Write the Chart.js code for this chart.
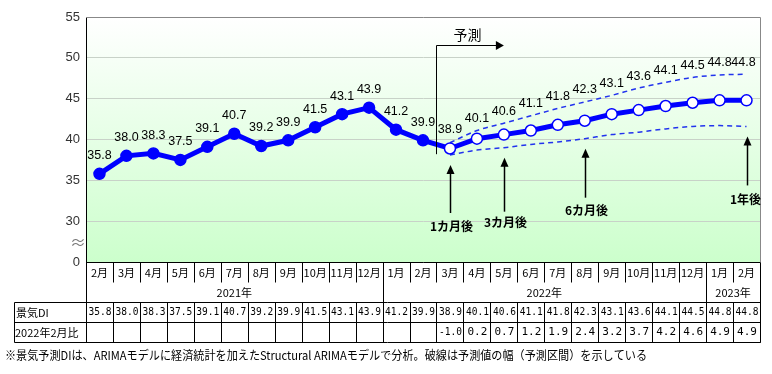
<!DOCTYPE html>
<html>
<head>
<meta charset="utf-8">
<script src="https://cdn.jsdelivr.net/npm/chart.js@4.4.0/dist/chart.umd.min.js"></script>
<style>
  body { margin: 0; background: #fff; }
</style>
</head>
<body>
<canvas id="diChart" width="772" height="374"></canvas>
<script>
// months Feb 2021 .. Feb 2023
const months = ["2月","3月","4月","5月","6月","7月","8月","9月","10月","11月","12月",
  "1月","2月","3月","4月","5月","6月","7月","8月","9月","10月","11月","12月",
  "1月","2月"];
const yearLabels = ["2021年", "2022年", "2023年"];
const yearSpans = [11, 12, 2];

const diValues = [35.8, 38.0, 38.3, 37.5, 39.1, 40.7, 39.2, 39.9, 41.5, 43.1, 43.9,
  41.2, 39.9, 38.9, 40.1, 40.6, 41.1, 41.8, 42.3, 43.1, 43.6, 44.1, 44.5, 44.8, 44.8];
const upperBand = [null, null, null, null, null, null, null, null, null, null, null, null, null,
  39.6, 41.1, 42.0, 42.9, 43.8, 44.6, 45.4, 46.3, 47.0, 47.6, 47.9, 48.0];
const lowerBand = [null, null, null, null, null, null, null, null, null, null, null, null, null,
  38.1, 38.7, 39.0, 39.4, 39.7, 40.1, 40.6, 40.9, 41.3, 41.6, 41.7, 41.6];
const vsFeb2022 = [null, null, null, null, null, null, null, null, null, null, null, null, null,
  -1.0, 0.2, 0.7, 1.2, 1.9, 2.4, 3.2, 3.7, 4.2, 4.6, 4.9, 4.9];
const forecastStart = 13;

const yTickValues = [25, 30, 35, 40, 45, 50, 55];
const yTickLabels = ["0", "30", "35", "40", "45", "50", "55"];

const arrowLabels = ["1カ月後", "3カ月後", "6カ月後", "1年後"];
const arrowIndex = [13, 15, 18, 24];

const rowNames = ["景気DI", "2022年2月比"];
const footnote = "※景気予測DIは、ARIMAモデルに経済統計を加えたStructural ARIMAモデルで分析。破線は予測値の幅（予測区間）を示している";

const JP = '"Noto Sans CJK JP", sans-serif';
const BLUE = "#0000ff";

// gradient plot background + gray top/right frame
const backdrop = {
  id: "backdrop",
  beforeDraw(chart) {
    const { ctx, chartArea: a } = chart;
    const g = ctx.createLinearGradient(0, a.top, 0, a.bottom);
    g.addColorStop(0, "#ffffff");
    g.addColorStop(1, "#ccffcc");
    ctx.save();
    ctx.fillStyle = g;
    ctx.fillRect(a.left, a.top, a.right - a.left, a.bottom - a.top);
    ctx.restore();
  },
  beforeDatasetsDraw(chart) {
    const { ctx, chartArea: a } = chart;
    ctx.save();
    ctx.strokeStyle = "#888";
    ctx.lineWidth = 1;
    ctx.beginPath();
    ctx.moveTo(a.left, Math.round(a.top) + 0.5);
    ctx.lineTo(Math.round(a.right) + 0.5, Math.round(a.top) + 0.5);
    ctx.lineTo(Math.round(a.right) + 0.5, a.bottom);
    ctx.stroke();
    // axis break mark
    ctx.fillStyle = "#777";
    ctx.font = "16px " + JP;
    ctx.textAlign = "center";
    ctx.textBaseline = "middle";
    ctx.fillText("≈", a.left - 8, chart.scales.y.getPixelForValue(27.5));
    ctx.restore();
  }
};

// value labels, forecast bracket and arrows
const notes = {
  id: "notes",
  afterDatasetsDraw(chart) {
    const { ctx } = chart;
    const xs = chart.scales.x, ys = chart.scales.y;
    const main = chart.getDatasetMeta(0).data;
    const up = chart.getDatasetMeta(1).data;
    const low = chart.getDatasetMeta(2).data;
    ctx.save();
    ctx.fillStyle = "#000";
    ctx.textAlign = "center";
    ctx.textBaseline = "middle";
    ctx.font = '12.5px "Liberation Sans", Arial, sans-serif';
    main.forEach((pt, i) => {
      let y = pt.y - 18;
      let x = pt.x;
      if (i >= forecastStart) y = Math.min(pt.y - 19, up[i].y - 12);
      if (i === main.length - 1) x -= 3;
      ctx.fillText(diValues[i].toFixed(1), x, y);
    });

    // 予測 bracket
    const bx = Math.round((xs.getPixelForValue(forecastStart - 1) + xs.getPixelForValue(forecastStart)) / 2) + 0.5;
    const top = Math.round(ys.getPixelForValue(51.6)) + 0.5;
    const bottom = ys.getPixelForValue(38.2);
    const tip = xs.getPixelForValue(forecastStart + 2);
    ctx.strokeStyle = "#000";
    ctx.lineWidth = 1;
    ctx.beginPath();
    ctx.moveTo(bx, bottom);
    ctx.lineTo(bx, top);
    ctx.lineTo(tip - 7, top);
    ctx.stroke();
    ctx.beginPath();
    ctx.moveTo(tip, top);
    ctx.lineTo(tip - 8, top - 4.5);
    ctx.lineTo(tip - 8, top + 4.5);
    ctx.closePath();
    ctx.fill();
    ctx.font = "14px " + JP;
    ctx.fillText("予測", bx + 31, top - 11);

    // up arrows
    const lens = [48, 54, 49, 49];
    const gaps = [13, 11, 13, 14];
    ctx.lineWidth = 1.5;
    ctx.font = "bold 12px " + JP;
    arrowIndex.forEach((idx, k) => {
      const x = Math.round(xs.getPixelForValue(idx)) + 0.5;
      const y0 = low[idx].y + 10;
      const y1 = y0 + lens[k];
      ctx.beginPath();
      ctx.moveTo(x, y0 + 8);
      ctx.lineTo(x, y1);
      ctx.stroke();
      ctx.beginPath();
      ctx.moveTo(x, y0);
      ctx.lineTo(x - 4, y0 + 9);
      ctx.lineTo(x + 4, y0 + 9);
      ctx.closePath();
      ctx.fill();
      const lx = k === arrowIndex.length - 1 ? x - 2 : x + 1;
      ctx.fillText(arrowLabels[k], lx, y1 + gaps[k]);
    });
    ctx.restore();
  }
};

// data table below the plot
const dataTable = {
  id: "dataTable",
  afterDraw(chart) {
    const { ctx, chartArea: a } = chart;
    const xs = chart.scales.x;
    const px = v => Math.round(v) + 0.5;
    const T = Math.round(a.bottom) + 0.5;
    const rowH = 20;
    const labelLeft = 14.5;
    const n = months.length;
    const bounds = [a.left];
    for (let i = 1; i < n; i++) bounds.push((xs.getPixelForValue(i - 1) + xs.getPixelForValue(i)) / 2);
    bounds.push(a.right);
    const yearEdges = [];
    let acc = 0;
    yearSpans.forEach(s => { acc += s; yearEdges.push(acc); });

    ctx.save();
    ctx.strokeStyle = "#000";
    ctx.lineWidth = 1;
    ctx.beginPath();
    // horizontal lines
    ctx.moveTo(a.left, T); ctx.lineTo(px(a.right), T);
    for (let r = 2; r <= 4; r++) {
      ctx.moveTo(labelLeft, T + r * rowH); ctx.lineTo(px(a.right), T + r * rowH);
    }
    // vertical lines
    bounds.forEach((b, i) => {
      const x = px(b);
      const edge = i === 0 || i === n;
      const yrEdge = yearEdges.includes(i);
      ctx.moveTo(x, T);
      ctx.lineTo(x, T + (edge ? 4 : yrEdge ? 2 : 1) * rowH);
      ctx.moveTo(x, T + 2 * rowH);
      ctx.lineTo(x, T + 4 * rowH);
    });
    ctx.moveTo(labelLeft, T + 2 * rowH); ctx.lineTo(labelLeft, T + 4 * rowH);
    ctx.stroke();

    ctx.fillStyle = "#000";
    ctx.textBaseline = "middle";
    ctx.textAlign = "center";
    ctx.font = "11px " + JP;
    months.forEach((m, i) => ctx.fillText(m, (bounds[i] + bounds[i + 1]) / 2, T + 10));
    let start = 0;
    yearLabels.forEach((yl, k) => {
      const end = start + yearSpans[k];
      ctx.fillText(yl, (bounds[start] + bounds[end]) / 2, T + 30);
      start = end;
    });
    ctx.font = '11px "DejaVu Sans Mono", monospace';
    diValues.forEach((v, i) => ctx.fillText(v.toFixed(1), (bounds[i] + bounds[i + 1]) / 2 + 0.5, T + 50, 23));
    vsFeb2022.forEach((v, i) => {
      if (v === null) return;
      ctx.fillText(v.toFixed(1), (bounds[i] + bounds[i + 1]) / 2 + 0.5, T + 70, 23);
    });
    ctx.textAlign = "left";
    ctx.font = "11px " + JP;
    ctx.fillText(rowNames[0], 16, T + 50, 68);
    ctx.fillText(rowNames[1], 15, T + 70, 70);
    ctx.font = "12px " + JP;
    ctx.fillText(footnote, 5, 355, 642);
    ctx.restore();
  }
};

const ctx = document.getElementById("diChart").getContext("2d");
const diChart = new Chart(ctx, {
  type: "line",
  data: {
    labels: months,
    datasets: [
      {
        label: "景気DI",
        data: diValues,
        borderColor: BLUE,
        borderWidth: 5,
        pointRadius: 5.5,
        pointHoverRadius: 5.5,
        pointBorderWidth: 1.5,
        pointBorderColor: BLUE,
        pointBackgroundColor: c => (c.dataIndex >= forecastStart ? "#ffffff" : BLUE),
        tension: 0
      },
      {
        label: "上限",
        data: upperBand,
        borderColor: "#2233ee",
        borderWidth: 1.5,
        borderDash: [5, 4],
        pointRadius: 0,
        cubicInterpolationMode: "monotone"
      },
      {
        label: "下限",
        data: lowerBand,
        borderColor: "#2233ee",
        borderWidth: 1.5,
        borderDash: [5, 4],
        pointRadius: 0,
        cubicInterpolationMode: "monotone"
      }
    ]
  },
  options: {
    responsive: false,
    animation: false,
    events: [],
    layout: { padding: { top: 17, right: 12, bottom: 112, left: 0 } },
    plugins: { legend: { display: false }, tooltip: { enabled: false } },
    scales: {
      x: { type: "category", display: false, offset: true },
      y: {
        min: 25,
        max: 55,
        afterFit: s => { s.width = 86; },
        afterBuildTicks: s => { s.ticks = yTickValues.map(v => ({ value: v })); },
        ticks: {
          padding: 6,
          color: "#333",
          font: { family: '"Liberation Sans", Arial, sans-serif', size: 13 },
          callback: (v, i) => yTickLabels[i]
        },
        grid: {
          drawTicks: false,
          color: c => (c.tick && (c.tick.value === 25 || c.tick.value === 55) ? "rgba(0,0,0,0)" : "#c8d2c8")
        },
        border: { color: "#000", width: 1 }
      }
    }
  },
  plugins: [backdrop, notes, dataTable]
});
</script>
</body>
</html>
